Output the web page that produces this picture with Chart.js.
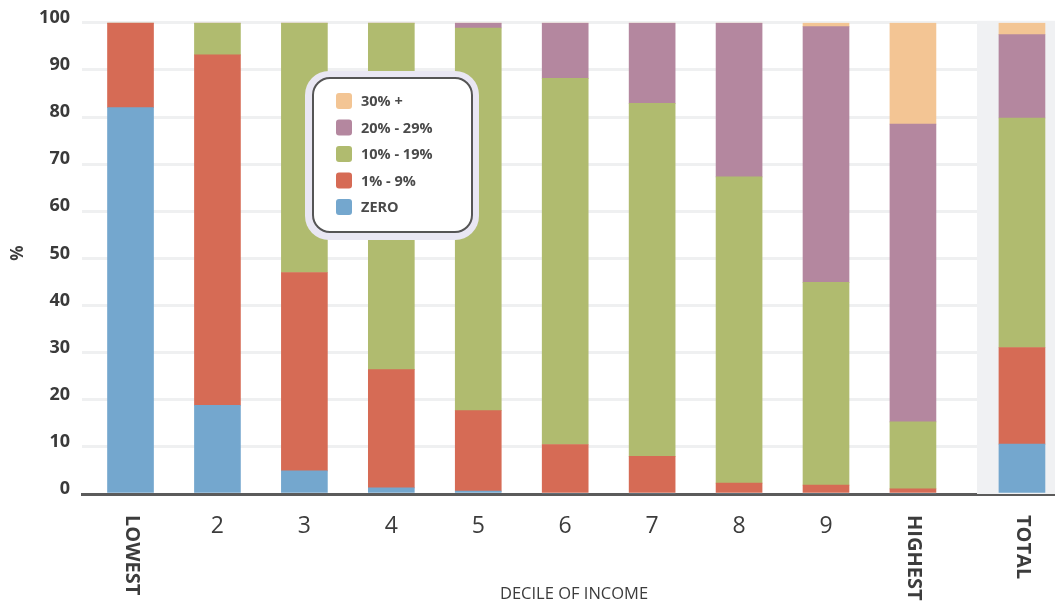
<!DOCTYPE html>
<html>
<head>
<meta charset="utf-8">
<script src="https://cdn.jsdelivr.net/npm/chart.js@4.4.1/dist/chart.umd.min.js"></script>
<style>
  html, body { margin: 0; padding: 0; background: #fff; }
  #wrap { width: 1055px; height: 602px; position: relative; }
</style>
</head>
<body>
<div id="wrap"><canvas id="decileChart"></canvas></div>
<script>
// Datos: porcentaje de hogares por tramo, por decil de ingreso
const categories = ['LOWEST', '2', '3', '4', '5', '6', '7', '8', '9', 'HIGHEST', 'TOTAL'];
const rotatedLabels = ['LOWEST', 'HIGHEST', 'TOTAL'];
const seriesLabels = ['ZERO', '1% - 9%', '10% - 19%', '20% - 29%', '30% +'];
const zeroVals   = [82.0, 18.8,  4.9,  1.3,  0.6,  0.0,  0.0,  0.0,  0.0,  0.0, 10.6];
const lowVals    = [18.0, 74.4, 42.1, 25.1, 17.1, 10.5,  8.0,  2.3,  1.9,  1.1, 20.5];
const midVals    = [ 0.0,  6.8, 53.0, 73.6, 81.2, 77.7, 74.9, 65.0, 43.0, 14.2, 48.7];
const highVals   = [ 0.0,  0.0,  0.0,  0.0,  1.1, 11.8, 17.1, 32.7, 54.3, 63.2, 17.7];
const topVals    = [ 0.0,  0.0,  0.0,  0.0,  0.0,  0.0,  0.0,  0.0,  0.8, 21.5,  2.5];
const yTickValues = [0, 10, 20, 30, 40, 50, 60, 70, 80, 90, 100];

const seriesValues = [zeroVals, lowVals, midVals, highVals, topVals];
const seriesColors = ['#74a7ce', '#d66b55', '#b0bb6f', '#b4879f', '#f3c594'];

const FONT = "'Open Sans', sans-serif";
const TOTAL_SHIFT = 0.254;   // separación extra antes de TOTAL
const xOf = (i) => (categories[i] === 'TOTAL' ? i + TOTAL_SHIFT : i);

function roundRect(ctx, x, y, w, h, r) {
    ctx.beginPath();
    ctx.moveTo(x + r, y);
    ctx.arcTo(x + w, y, x + w, y + h, r);
    ctx.arcTo(x + w, y + h, x, y + h, r);
    ctx.arcTo(x, y + h, x, y, r);
    ctx.arcTo(x, y, x + w, y, r);
    ctx.closePath();
}

// Banda gris detrás de la columna TOTAL
const totalBand = {
    id: 'totalBand',
    beforeDatasetsDraw(chart) {
        const { ctx, chartArea, scales } = chart;
        const left = scales.x.getPixelForValue(categories.length - 2 + 0.737);
        ctx.save();
        ctx.fillStyle = '#f0f1f3';
        ctx.fillRect(left, chartArea.top - 2, chartArea.right - left, chartArea.bottom - chartArea.top + 2);
        ctx.restore();
    }
};

// Etiquetas del eje X, títulos y leyenda
const decorations = {
    id: 'decorations',
    afterDraw(chart) {
        const { ctx, scales } = chart;
        ctx.save();
        ctx.fillStyle = '#3c3c3c';
        categories.forEach((cat, i) => {
            const x = scales.x.getPixelForValue(xOf(i));
            if (rotatedLabels.includes(cat)) {
                ctx.save();
                ctx.translate(x + 1, 515);
                ctx.rotate(Math.PI / 2);
                ctx.font = `bold 20px ${FONT}`;
                ctx.textAlign = 'left';
                ctx.textBaseline = 'middle';
                ctx.fillText(cat, 0, 0);
                ctx.restore();
            } else {
                ctx.font = `23px ${FONT}`;
                ctx.textAlign = 'center';
                ctx.textBaseline = 'middle';
                ctx.fillText(cat, x, 526);
            }
        });

        ctx.font = `16.5px ${FONT}`;
        ctx.textAlign = 'center';
        ctx.textBaseline = 'middle';
        ctx.fillText('DECILE OF INCOME', 574, 594);

        ctx.save();
        ctx.translate(18, 253);
        ctx.rotate(-Math.PI / 2);
        ctx.font = `bold 17px ${FONT}`;
        ctx.fillText('%', 0, 0);
        ctx.restore();

        // Leyenda con borde redondeado
        ctx.fillStyle = '#e9e7f3';
        roundRect(ctx, 305, 71, 174, 169, 24);
        ctx.fill();
        ctx.fillStyle = '#ffffff';
        roundRect(ctx, 313, 78, 159, 154, 17);
        ctx.fill();
        ctx.strokeStyle = '#555555';
        ctx.lineWidth = 2;
        ctx.stroke();

        const items = chart.data.datasets.slice().reverse();
        items.forEach((ds, k) => {
            const cy = 101 + k * 26.5;
            ctx.fillStyle = ds.backgroundColor;
            roundRect(ctx, 336, cy - 8, 16, 16, 3);
            ctx.fill();
            ctx.fillStyle = '#4a4a4a';
            ctx.font = `bold 14.5px ${FONT}`;
            ctx.textAlign = 'left';
            ctx.textBaseline = 'middle';
            ctx.fillText(ds.label, 361, cy + 1);
        });
        ctx.restore();
    }
};

const datasets = seriesLabels.map((label, s) => ({
    label,
    data: seriesValues[s].map((v, i) => ({ x: xOf(i), y: v })),
    backgroundColor: seriesColors[s],
    borderWidth: 0,
    barThickness: 46
}));

new Chart(document.getElementById('decileChart').getContext('2d'), {
    type: 'bar',
    data: { datasets },
    options: {
        responsive: true,
        maintainAspectRatio: false,
        animation: false,
        layout: { padding: { top: 20, right: 0, left: 0, bottom: 0 } },
        plugins: {
            legend: { display: false },
            tooltip: { enabled: false }
        },
        scales: {
            x: {
                type: 'linear',
                stacked: true,
                offset: false,
                bounds: 'data',
                min: -0.558,
                max: 10.634,
                z: 1,
                grid: { display: false, offset: false },
                ticks: { display: false },
                border: { color: '#5b5b5b', width: 3 },
                afterFit: (scale) => { scale.height = 108; }
            },
            y: {
                stacked: true,
                min: 0,
                max: 100,
                z: 1,
                afterBuildTicks: (scale) => { scale.ticks = yTickValues.map(v => ({ value: v })); },
                ticks: {
                    padding: 12,
                    labelOffset: -5,
                    color: '#3a3a3a',
                    font: { family: FONT, size: 18, weight: 'bold' }
                },
                grid: { color: 'rgba(120, 130, 140, 0.12)', lineWidth: 3, drawTicks: false },
                border: { display: false },
                afterFit: (scale) => { scale.width = 82; }
            }
        }
    },
    plugins: [totalBand, decorations]
});
</script>
</body>
</html>
